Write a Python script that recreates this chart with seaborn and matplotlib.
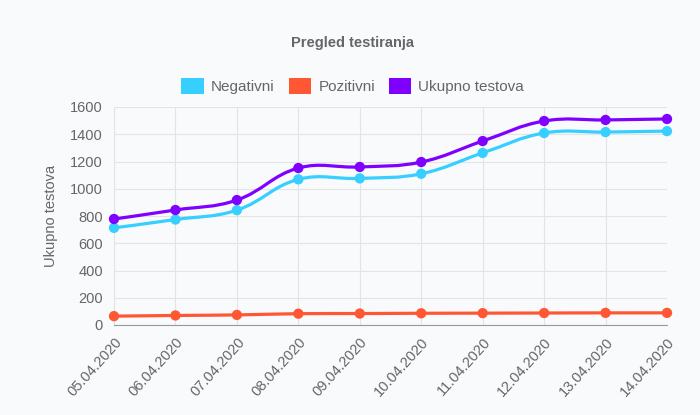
"""Pregled testiranja - daily tests (negative / positive / total)."""

import matplotlib

matplotlib.use("Agg")

import matplotlib.pyplot as plt
import numpy as np
import pandas as pd
import seaborn as sns
from matplotlib.patches import Patch, PathPatch
from matplotlib.path import Path

DATES = ["05.04.2020", "06.04.2020", "07.04.2020", "08.04.2020", "09.04.2020",
         "10.04.2020", "11.04.2020", "12.04.2020", "13.04.2020", "14.04.2020"]
NEGATIVNI = [713, 774, 843, 1069, 1076, 1110, 1263, 1409, 1416, 1423]
POZITIVNI = [65, 70, 74, 83, 84, 86, 87, 88, 89, 89]
UKUPNO = [778, 844, 917, 1152, 1160, 1196, 1350, 1497, 1505, 1512]

SERIES = ["Negativni", "Pozitivni", "Ukupno testova"]
COLORS = {"Negativni": "#36cfff", "Pozitivni": "#ff5733", "Ukupno testova": "#7f00ff"}

TEXT = "#666666"
GRID = "#e3e4e6"
BG = "#f9fafb"


def bezier_path(xs, ys, sx, sy, tension=0.4):
    """Chart.js-style spline through the points (distances in pixel units)."""
    pts = np.column_stack([np.asarray(xs, float) * sx, np.asarray(ys, float) * sy])
    n = len(pts)
    c_prev = pts.copy()
    c_next = pts.copy()
    for i in range(1, n - 1):
        p0, p1, p2 = pts[i - 1], pts[i], pts[i + 1]
        d01 = np.hypot(*(p1 - p0))
        d12 = np.hypot(*(p2 - p1))
        s01 = d01 / (d01 + d12)
        s12 = d12 / (d01 + d12)
        c_prev[i] = p1 - tension * s01 * (p2 - p0)
        c_next[i] = p1 + tension * s12 * (p2 - p0)
    verts = [pts[0]]
    codes = [Path.MOVETO]
    for i in range(n - 1):
        verts += [c_next[i], c_prev[i + 1], pts[i + 1]]
        codes += [Path.CURVE4] * 3
    verts = np.array(verts) / [sx, sy]
    return Path(verts, codes)


df = pd.DataFrame({
    "idx": np.tile(np.arange(len(DATES)), 3),
    "value": NEGATIVNI + POZITIVNI + UKUPNO,
    "serija": np.repeat(SERIES, len(DATES)),
})

sns.set_style("white")
plt.rcParams["font.family"] = ["Liberation Sans", "DejaVu Sans"]

fig = plt.figure(figsize=(7, 4.15), dpi=100, facecolor=BG)
ax = fig.add_axes([114 / 700, 1 - 325 / 415, 553 / 700, 218 / 415])
ax.set_facecolor(BG)

# px per data unit, used for the spline shape
sx, sy = 553 / 9, 218 / 1600
for name in SERIES:
    sub = df[df["serija"] == name]
    path = bezier_path(sub["idx"], sub["value"], sx, sy)
    ax.add_patch(PathPatch(path, facecolor="none", edgecolor=COLORS[name],
                           lw=2.3, zorder=3, clip_on=False, capstyle="round"))

sns.scatterplot(data=df, x="idx", y="value", hue="serija", palette=COLORS,
                s=55, edgecolor="none", legend=False, ax=ax, zorder=4, clip_on=False)

ax.set_xlim(0, len(DATES) - 1)
ax.set_ylim(0, 1600)
ax.set_yticks(range(0, 1601, 200))
ax.set_xticks(range(len(DATES)))
ax.set_xticklabels(DATES, rotation=48, ha="right", rotation_mode="anchor")
ax.tick_params(axis="both", colors=GRID, labelcolor=TEXT, labelsize=10.5, length=6, width=0.8)
ax.tick_params(axis="y", pad=2)
ax.tick_params(axis="x", pad=1)
ax.grid(True, color=GRID, lw=0.8)
ax.set_axisbelow(True)
for side in ["top", "right"]:
    ax.spines[side].set_visible(False)
ax.spines["left"].set_color(GRID)
ax.spines["bottom"].set_color("#999999")
ax.set_xlabel("")
ax.set_ylabel("Ukupno testova", color=TEXT, fontsize=10.5, labelpad=9)

fig.text(0.504, 1 - 43 / 415, "Pregled testiranja", ha="center", va="center",
         color=TEXT, fontsize=10.5, fontweight="bold")
handles = [Patch(facecolor=COLORS[s], edgecolor="none", label=s) for s in SERIES]
fig.legend(handles=handles, loc="center", bbox_to_anchor=(0.504, 1 - 86 / 415), ncol=3,
           frameon=False, fontsize=11, labelcolor=TEXT, handlelength=1.45, handleheight=1.25,
           handletextpad=0.5, columnspacing=0.9)

fig.savefig("out.png", dpi=100, facecolor=BG)
